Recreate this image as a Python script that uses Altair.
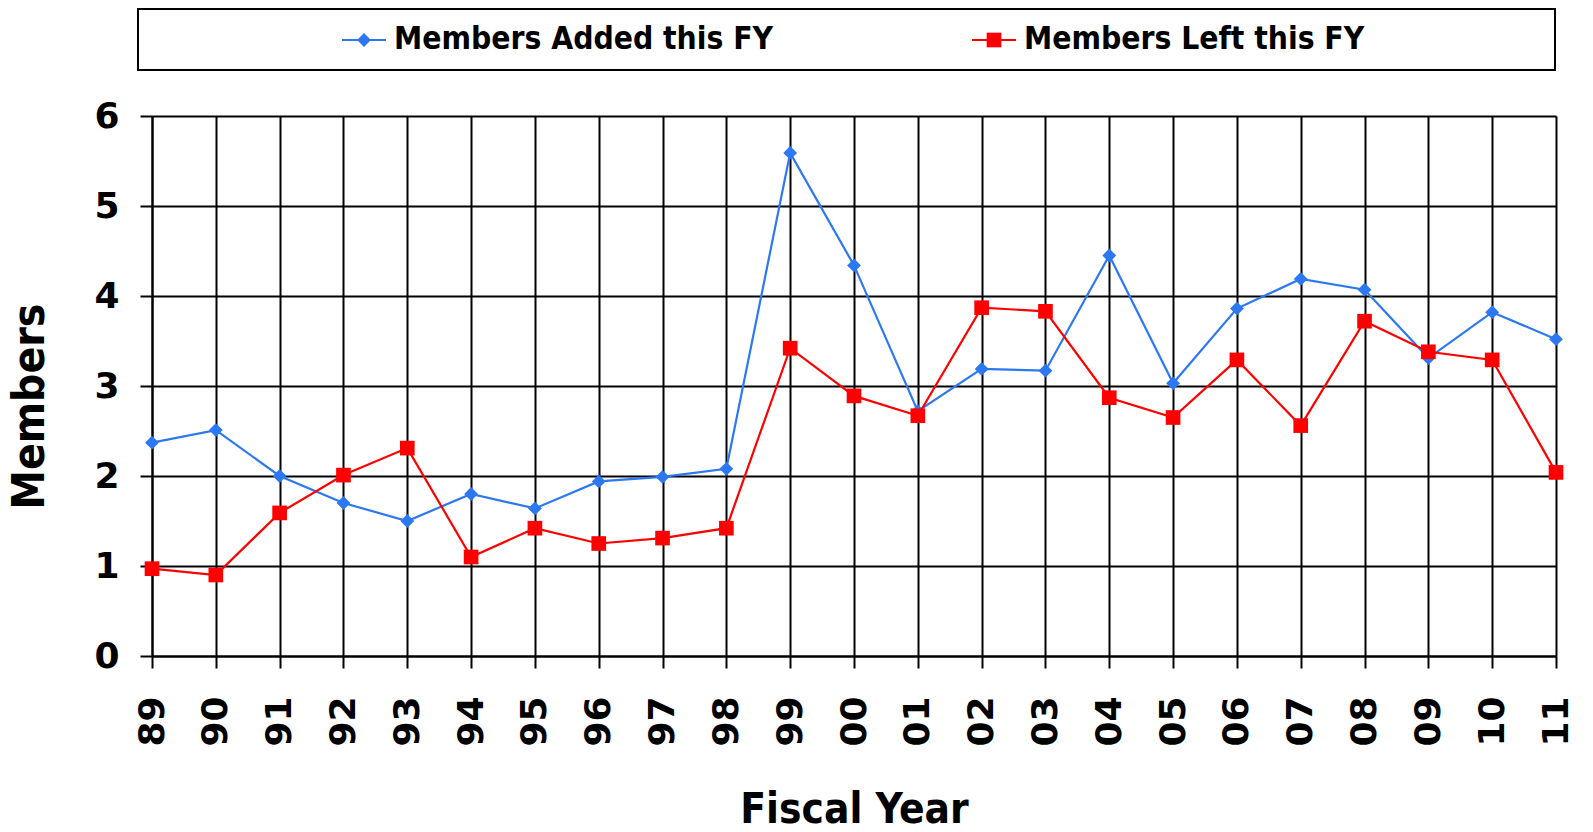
import altair as alt
import pandas as pd

years = ["89", "90", "91", "92", "93", "94", "95", "96", "97", "98", "99", "00",
         "01", "02", "03", "04", "05", "06", "07", "08", "09", "10", "11"]
added = [2.37, 2.51, 2.00, 1.70, 1.50, 1.80, 1.64, 1.94, 1.99, 2.08, 5.59, 4.34,
         2.72, 3.19, 3.17, 4.45, 3.03, 3.86, 4.19, 4.07, 3.31, 3.82, 3.52]
left_ = [0.97, 0.90, 1.59, 2.01, 2.31, 1.10, 1.42, 1.25, 1.31, 1.42, 3.42, 2.89,
         2.67, 3.87, 3.83, 2.87, 2.65, 3.29, 2.56, 3.72, 3.38, 3.29, 2.04]
series = ["Members Added this FY", "Members Left this FY"]
colors = ["#2b78f2", "#ff0000"]
shapes = ["diamond", "square"]
marker_sizes = [190, 215]

df = pd.DataFrame({
    "year": years * 2,
    "value": added + left_,
    "series": [series[0]] * len(years) + [series[1]] * len(years),
})
leg_df = pd.DataFrame({"series": series})
box_df = pd.DataFrame({"box": [0]})

COND = "DejaVu Sans Condensed, DejaVu Sans"
W, H = 1404, 540

color_enc = alt.Color("series:N", scale=alt.Scale(domain=series, range=colors), legend=None)
shape_enc = alt.Shape("series:N", scale=alt.Scale(domain=series, range=shapes), legend=None)
size_enc = alt.Size("series:N", scale=alt.Scale(domain=series, range=marker_sizes), legend=None)

base = alt.Chart(df).encode(
    x=alt.X("year:N", sort=years,
            scale=alt.Scale(type="point", padding=0),
            axis=alt.Axis(title="Fiscal Year", labelAngle=270, labelPadding=28,
                          titlePadding=43, titleFontSize=42)),
    y=alt.Y("value:Q", scale=alt.Scale(domain=[0, 6], nice=False),
            axis=alt.Axis(title="Members", values=[0, 1, 2, 3, 4, 5, 6],
                          labelPadding=21, titlePadding=41, format="d", titleY=290)),
    color=color_enc,
)
lines = base.mark_line(strokeWidth=2.2)
points = base.mark_point(filled=True, opacity=1).encode(shape=shape_enc, size=size_enc)
main = alt.layer(lines, points)

leg = alt.Chart(leg_df).encode(
    x=alt.X("series:N",
            scale=alt.Scale(type="point", domain=series, range=[212, 842], padding=0),
            axis=None),
    y=alt.value(-76),
)
leg_line = leg.mark_point(shape="stroke", size=1936, strokeWidth=2.2, opacity=1).encode(color=color_enc)
leg_pt = leg.mark_point(filled=True, opacity=1).encode(color=color_enc, shape=shape_enc, size=size_enc)
leg_txt = leg.mark_text(align="left", baseline="middle", dx=30, font=COND,
                        fontSize=31.5, fontWeight="bold", color="black").encode(text="series:N")
legend = alt.layer(leg_line, leg_pt, leg_txt)

box = alt.Chart(box_df).mark_rect(fillOpacity=0, stroke="black", strokeWidth=2).encode(
    x=alt.value(-14), x2=alt.value(1403), y=alt.value(-107), y2=alt.value(-46)
)

chart = alt.layer(main, box, legend).resolve_scale(
    x="independent"
).properties(
    width=W, height=H, padding=0
).configure_view(stroke=None).configure_axis(
    labelFont="DejaVu Sans", labelFontSize=36, labelFontWeight="bold", labelColor="black",
    titleFont=COND, titleFontSize=44, titleFontWeight="bold", titleColor="black",
    tickSize=12, tickColor="black", tickWidth=2,
    domainColor="black", domainWidth=2,
    grid=True, gridColor="black", gridWidth=2, gridOpacity=1,
)

chart.save("out.html", embed_options={"renderer": "svg", "actions": False})
